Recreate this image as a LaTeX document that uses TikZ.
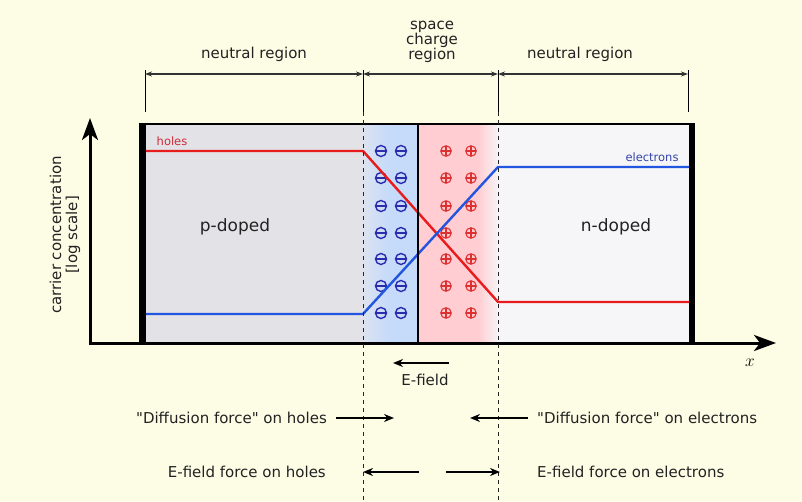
\documentclass[tikz,border=0pt]{standalone}
\usepackage{fontspec}
\setmainfont{DejaVu Sans}[Ligatures=TeXOff]
\usetikzlibrary{arrows.meta}
\definecolor{bg}{HTML}{FDFDE6}
\definecolor{pcol}{HTML}{E3E3E7}
\definecolor{ncol}{HTML}{F6F6F8}
\definecolor{bluereg}{HTML}{C6DAF9}
\definecolor{bluelight}{HTML}{DCE3F0}
\definecolor{redreg}{HTML}{FFCDD2}
\definecolor{holec}{HTML}{E81C1C}
\definecolor{elec}{HTML}{2255E0}
\definecolor{holetxt}{HTML}{CC2A3A}
\definecolor{eletxt}{HTML}{3344AA}
\definecolor{mblue}{HTML}{2B2BB0}
\definecolor{pred}{HTML}{DD3030}
\definecolor{txt}{HTML}{222222}
\definecolor{dimc}{HTML}{333333}
\begin{document}
\begin{tikzpicture}[x=1pt,y=-1pt,
  lbl/.style={font=\fontsize{15}{15}\selectfont, text=txt, inner sep=0pt},
  biglbl/.style={font=\fontsize{17}{17}\selectfont, text=txt, inner sep=0pt},
  smalllbl/.style={font=\fontsize{11.5}{12}\selectfont, inner sep=0pt},
  dimarrow/.style={draw=dimc, line width=1.1pt, {Stealth[length=7pt,width=5pt]}-{Stealth[length=7pt,width=5pt]}},
  forcearrow/.style={draw=black, line width=2.4pt, -{Stealth[length=10pt,width=8pt]}},
  tickline/.style={draw=black, line width=1pt},
  sepline/.style={draw=black!85, line width=1pt, dash pattern=on 4pt off 4pt},
  axisline/.style={draw=black, line width=3pt, -{Stealth[length=22pt,width=16pt,inset=6pt]}},
  curve/.style={line width=2.4pt, line join=round},
  minusq/.style={circle, draw=mblue, line width=1.4pt, minimum size=11pt, inner sep=0pt,
    path picture={\draw[mblue, line width=1.5pt] (path picture bounding box.west) -- (path picture bounding box.east);}},
  plusq/.style={circle, draw=pred, line width=1.1pt, minimum size=10.5pt, inner sep=0pt,
    path picture={\draw[pred, line width=1.1pt] (path picture bounding box.west) -- (path picture bounding box.east)
      (path picture bounding box.north) -- (path picture bounding box.south);}}
]
\useasboundingbox (0,0) rectangle (802,502);
\fill[bg] (0,0) rectangle (802,502);

% regions
\fill[pcol] (146,124) rectangle (363,343);
\shade[left color=bluelight, right color=bluereg] (363,124) rectangle (388,343);
\fill[bluereg] (388,124) rectangle (418,343);
\fill[redreg] (418,124) rectangle (478,343);
\shade[left color=redreg, right color=ncol] (478,124) rectangle (499,343);
\fill[ncol] (499,124) rectangle (689,343);

% charges
\foreach \i/\y in {1/151,2/178,3/206,4/233,5/259,6/286,7/313}{
  \node[minusq] (ma\i) at (381,\y) {};
  \node[minusq] (mb\i) at (401,\y) {};
  \node[plusq] (pa\i) at (446,\y) {};
  \node[plusq] (pb\i) at (471,\y) {};
}

% carrier curves
\coordinate (h0) at (146,151);
\coordinate (h1) at (363,151);
\coordinate (h2) at (498,302);
\coordinate (h3) at (689,302);
\coordinate (e0) at (146,314);
\coordinate (e1) at (363,314);
\coordinate (e2) at (498,167);
\coordinate (e3) at (689,167);
\draw[curve, holec] (h0) -- (h1) -- (h2) -- (h3);
\draw[curve, elec] (e0) -- (e1) -- (e2) -- (e3);

% junction line
\coordinate (jt) at (418,124);
\coordinate (jb) at (418,343);
\draw[line width=2.2pt] (jt) -- (jb);

% box borders
\draw[line width=2pt] (140,124) -- (694,124);
\fill[black] (139,123) rectangle (146,343);
\fill[black] (689,123) rectangle (695,343);

% axes
\coordinate (origin) at (90,343);
\coordinate (ytip) at (90,118);
\coordinate (xtip) at (776,343);
\draw[axisline] (origin) -- (ytip);
\draw[axisline] ([xshift=-1.5pt]origin) -- (xtip);

% ticks and separators
\foreach \n/\x in {a/145,b/363,c/498,d/688}{
  \coordinate (tt\n) at (\x,70);
  \coordinate (tb\n) at (\x,112);
  \coordinate (dm\n) at (\x,74);
  \draw[tickline] (tt\n) -- (tb\n);
}
\coordinate (sb1) at (363,502);
\coordinate (sb2) at (498,502);
\draw[sepline] (tbb) -- (sb1);
\draw[sepline] (tbc) -- (sb2);
\draw[dimarrow] (dma) -- (dmb);
\draw[dimarrow] (dmb) -- (dmc);
\draw[dimarrow] (dmc) -- (dmd);

% top labels
\node[lbl] (nr1) at (254,54) {neutral region};
\node[lbl, align=center] (scr) at (432,42) {space\\charge\\region};
\node[lbl] (nr2) at (580,54) {neutral region};

% inside labels
\node[biglbl] (pd) at (235,227) {p-doped};
\node[biglbl] (nd) at (616,227) {n-doped};
\node[smalllbl, text=holetxt] (holes) at (172,141) {holes};
\node[smalllbl, text=eletxt] (electrons) at (652,157) {electrons};

% axis labels
\node[lbl, align=center, rotate=90, font=\fontsize{15}{16}\selectfont] (ylab) at (65,235) {carrier concentration\\{}[log scale]};
\node[inner sep=0pt, font=\fontsize{16}{16}\selectfont] (xlab) at (750,363) {$x$};

% E-field
\coordinate (ef1) at (449,363);
\coordinate (ef2) at (393,363);
\draw[forcearrow] (ef1) -- (ef2);
\node[lbl] (eflab) at (425,380) {E-field};

% forces
\node[lbl, anchor=east] (dh) at (327,418) {"Diffusion force" on holes};
\node[lbl, anchor=west] (de) at (537,418) {"Diffusion force" on electrons};
\node[lbl, anchor=east] (fh) at (326,472) {E-field force on holes};
\node[lbl, anchor=west] (fe) at (537,472) {E-field force on electrons};
\coordinate (dha) at (336,418);
\coordinate (dhb) at (394,418);
\coordinate (dea) at (528,418);
\coordinate (deb) at (470,418);
\coordinate (fha) at (419,472);
\coordinate (fhb) at (363,472);
\coordinate (fea) at (446,472);
\coordinate (feb) at (500,472);
\draw[forcearrow] (dha) -- (dhb);
\draw[forcearrow] (dea) -- (deb);
\draw[forcearrow] (fha) -- (fhb);
\draw[forcearrow] (fea) -- (feb);
\end{tikzpicture}
\end{document}
